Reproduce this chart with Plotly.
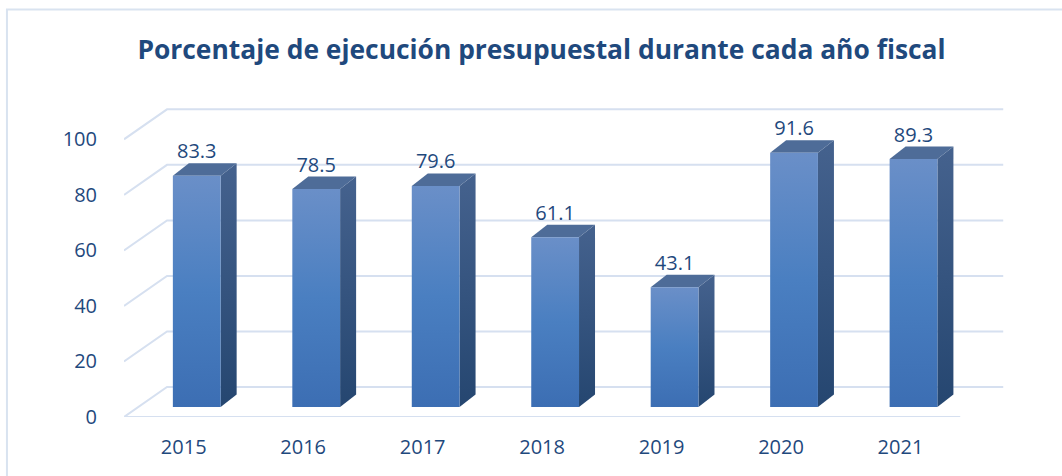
import plotly.graph_objects as go

years = ["2015", "2016", "2017", "2018", "2019", "2020", "2021"]
values = [83.3, 78.5, 79.6, 61.1, 43.1, 91.6, 89.3]
y_ticks = [0, 20, 40, 60, 80, 100]

# 3D geometry (data units): x in category units, y in value units
DX, DY = 0.36, 10.8          # floor / wall depth
BX0, BY0 = 0.109, 3.6        # bar front offset into depth
BDX, BDY = 0.134, 4.5        # bar depth
BW = 0.40                    # bar width

TXT = "#1f497d"
GRID = "#d6e0f0"
FONT = "Open Sans"

fig = go.Figure()

# gridlines: back wall + side wall diagonals
for v in y_ticks:
    xs = [-0.5, -0.5 + DX, len(years) - 0.5 + DX]
    ys = [v, v + DY, v + DY]
    fig.add_trace(go.Scatter(x=xs, y=ys, mode="lines", line=dict(color=GRID, width=2),
                             hoverinfo="skip", showlegend=False))
# floor front edge
fig.add_trace(go.Scatter(x=[-0.5, len(years) - 0.5], y=[0, 0], mode="lines",
                         line=dict(color=GRID, width=2), hoverinfo="skip", showlegend=False))

for i, v in enumerate(values):
    x0 = i + BX0 - BW / 2
    x1 = i + BX0 + BW / 2
    yb = BY0
    yt = BY0 + v
    # side face
    fig.add_trace(go.Scatter(
        x=[x1, x1 + BDX, x1 + BDX, x1, x1], y=[yb, yb + BDY, yt + BDY, yt, yb],
        mode="lines", line=dict(width=0), fill="toself",
        fillgradient=dict(type="vertical", colorscale=[[0, "#254670"], [1, "#45628e"]]),
        hoverinfo="skip", showlegend=False))
    # top face
    fig.add_trace(go.Scatter(
        x=[x0, x1, x1 + BDX, x0 + BDX, x0], y=[yt, yt, yt + BDY, yt + BDY, yt],
        mode="lines", line=dict(width=0), fill="toself", fillcolor="#4e6c98",
        hoverinfo="skip", showlegend=False))
    # front face
    fig.add_trace(go.Scatter(
        x=[x0, x1, x1, x0, x0], y=[yb, yb, yt, yt, yb],
        mode="lines", line=dict(width=0), fill="toself",
        fillgradient=dict(type="vertical",
                          colorscale=[[0, "#3c6eb3"], [0.5, "#4a7fc1"], [1, "#6a8fc8"]]),
        hoverinfo="skip", showlegend=False))

# data labels
fig.add_trace(go.Scatter(
    x=[i + BX0 for i in range(len(years))],
    y=[v + BY0 + BDY for v in values],
    mode="text", text=[f"{v:.1f}" for v in values], textposition="top center",
    textfont=dict(family=FONT, size=20, color=TXT), hoverinfo="skip", showlegend=False))

fig.update_layout(
    width=1062, height=476,
    margin=dict(l=124, r=54.4, t=105.6, b=59, pad=0),
    paper_bgcolor="white", plot_bgcolor="white",
    title=dict(text="<b>Porcentaje de ejecución presupuestal durante cada año fiscal</b>",
               font=dict(family=FONT, size=26.4, color=TXT),
               x=541.5 / 1062, xanchor="center", xref="container",
               y=1 - 50 / 476, yanchor="middle", yref="container"),
    xaxis=dict(range=[-0.5, 6.9], tickmode="array", tickvals=list(range(len(years))),
               ticktext=years, showgrid=False, zeroline=False, showline=False,
               ticks="", ticklabelstandoff=16,
               tickfont=dict(family=FONT, size=20, color=TXT)),
    yaxis=dict(range=[0, 112], tickmode="array", tickvals=y_ticks,
               ticktext=[str(t) for t in y_ticks], showgrid=False, zeroline=False,
               showline=False, ticks="", ticklabelstandoff=26,
               tickfont=dict(family=FONT, size=20, color=TXT)),
    shapes=[dict(type="rect", xref="paper", yref="paper",
                 x0=(7 - 124) / 883.6, x1=(1080 - 124) / 883.6,
                 y0=(417 - 500) / 311.4, y1=(417 - 9) / 311.4,
                 line=dict(color="#d9e3f0", width=2), fillcolor="rgba(0,0,0,0)", layer="below")],
)

fig.write_html("out.html", config={"displayModeBar": False},
               post_script="document.body.style.margin='0px';")
